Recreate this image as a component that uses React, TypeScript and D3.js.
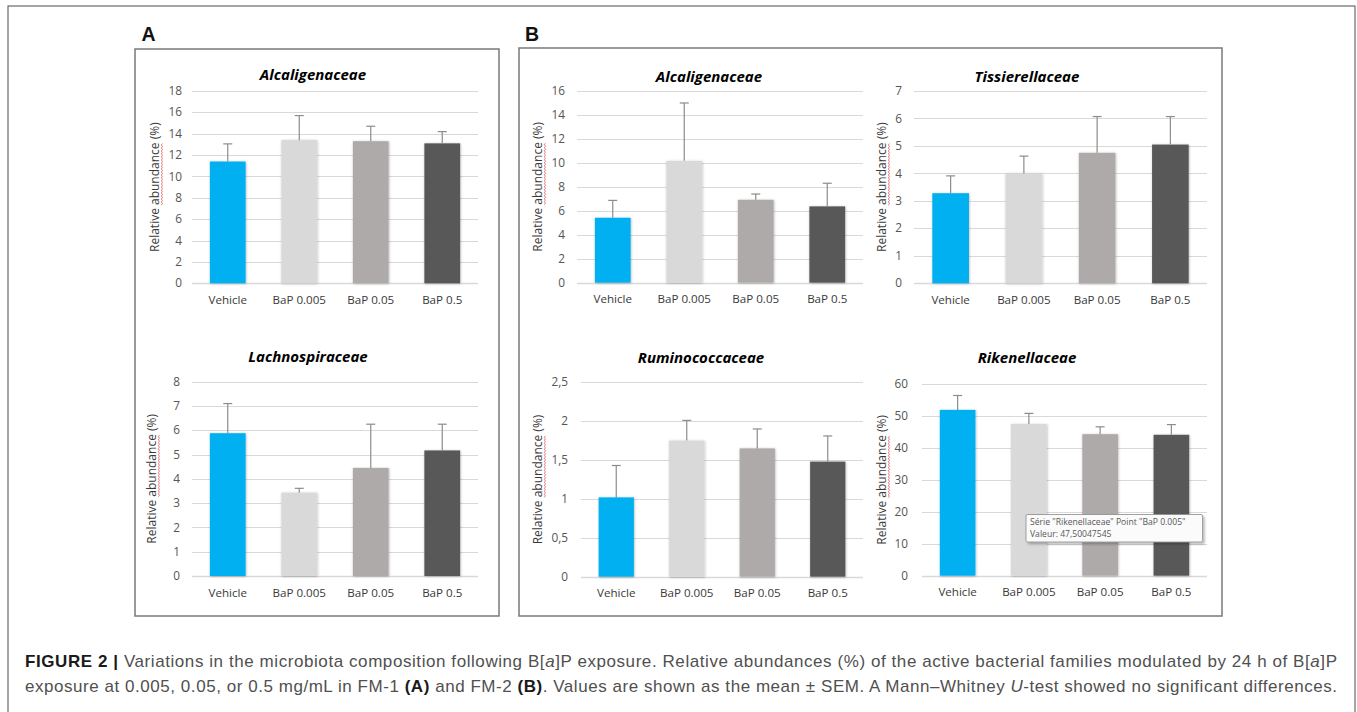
import React, { useEffect, useRef } from "react";
import * as d3 from "d3";

// categories on the x axis (same for every panel)
const categories = ["Vehicle", "BaP 0.005", "BaP 0.05", "BaP 0.5"];

// panel titles: A (FM-1) top, A bottom, then B (FM-2) four charts
const familyNames = [
  "Alcaligenaceae",
  "Lachnospiraceae",
  "Alcaligenaceae",
  "Tissierellaceae",
  "Ruminococcaceae",
  "Rikenellaceae",
];

// means (%) and SEM
const fm1Alcaligenaceae = [11.4, 13.4, 13.3, 13.1];
const fm1AlcaligenaceaeSem = [1.65, 2.3, 1.4, 1.1];
const fm1Lachnospiraceae = [5.88, 3.43, 4.45, 5.17];
const fm1LachnospiraceaeSem = [1.22, 0.18, 1.8, 1.08];
const fm2Alcaligenaceae = [5.42, 10.17, 6.92, 6.37];
const fm2AlcaligenaceaeSem = [1.45, 4.83, 0.48, 1.93];
const fm2Tissierellaceae = [3.28, 4.0, 4.75, 5.05];
const fm2TissierellaceaeSem = [0.63, 0.63, 1.32, 1.02];
const fm2Ruminococcaceae = [1.02, 1.75, 1.65, 1.48];
const fm2RuminococcaceaeSem = [0.41, 0.26, 0.25, 0.33];
const fm2Rikenellaceae = [51.9, 47.50047545, 44.3, 44.1];
const fm2RikenellaceaeSem = [4.5, 3.3, 2.3, 3.2];

const panelMeans = [
  fm1Alcaligenaceae,
  fm1Lachnospiraceae,
  fm2Alcaligenaceae,
  fm2Tissierellaceae,
  fm2Ruminococcaceae,
  fm2Rikenellaceae,
];
const panelSems = [
  fm1AlcaligenaceaeSem,
  fm1LachnospiraceaeSem,
  fm2AlcaligenaceaeSem,
  fm2TissierellaceaeSem,
  fm2RuminococcaceaeSem,
  fm2RikenellaceaeSem,
];

// y axis: max and tick step
const yMaxima = [18, 8, 16, 7, 2.5, 60];
const yTickSteps = [2, 1, 2, 1, 0.5, 10];

const yAxisLabel = "Relative abundance (%)";
const panelLetters = ["A", "B"];

// tooltip shown in the Rikenellaceae chart (panel index, category index)
const tooltipPanel = 5;
const tooltipCategory = 1;

// caption segments
const captionLine1 = [
  { t: "FIGURE 2 | ", b: true },
  { t: "Variations in the microbiota composition following B[" },
  { t: "a", i: true },
  { t: "]P exposure. Relative abundances (%) of the active bacterial families modulated by 24 h of B[" },
  { t: "a", i: true },
  { t: "]P" },
];
const captionLine2 = [
  { t: "exposure at 0.005, 0.05, or 0.5 mg/mL in FM-1 " },
  { t: "(A)", b: true },
  { t: " and FM-2 " },
  { t: "(B)", b: true },
  { t: ". Values are shown as the mean \u00b1 SEM. A Mann\u2013Whitney " },
  { t: "U", i: true },
  { t: "-test showed no significant differences." },
];

const barColors = ["#00b0f0", "#d9d9d9", "#aeaaaa", "#595959"];

// layout of each chart inside the figure
const layouts = [
  { x0: 192, x1: 478, yTop: 91, y0: 283.3, titleX: 313, titleY: 80, tickX: 182, ylabX: 155 },
  { x0: 192, x1: 478, yTop: 381.7, y0: 576, titleX: 308, titleY: 361.5, tickX: 180, ylabX: 152 },
  { x0: 577, x1: 863, yTop: 91, y0: 282.7, titleX: 709, titleY: 81.5, tickX: 565, ylabX: 538 },
  { x0: 914, x1: 1207, yTop: 91, y0: 283.3, titleX: 1027, titleY: 81.5, tickX: 902, ylabX: 882 },
  { x0: 581, x1: 863, yTop: 382.3, y0: 576.7, titleX: 701, titleY: 363, tickX: 568, ylabX: 538 },
  { x0: 922, x1: 1207, yTop: 384, y0: 575.7, titleX: 1027, titleY: 362.5, tickX: 908, ylabX: 882 },
];

const chartFont = "'Open Sans', 'Noto Sans', sans-serif";
const capFont = "'Liberation Sans', Arial, sans-serif";

const frLocale = d3.formatLocale({
  decimal: ",",
  thousands: " ",
  grouping: [3],
  currency: ["", "\u00a0\u20ac"],
});

export default function App() {
  const svgRef = useRef<SVGSVGElement | null>(null);

  useEffect(() => {
    if (!svgRef.current) return;
    const svg = d3.select(svgRef.current);
    svg.selectAll("*").remove();

    const defs = svg.append("defs");
    const f = defs
      .append("filter")
      .attr("id", "barShadow")
      .attr("x", "-20%")
      .attr("y", "-10%")
      .attr("width", "140%")
      .attr("height", "120%");
    f.append("feDropShadow")
      .attr("dx", 0.5)
      .attr("dy", 0.5)
      .attr("stdDeviation", 1.3)
      .attr("flood-color", "#000")
      .attr("flood-opacity", 0.3);
    const tf = defs
      .append("filter")
      .attr("id", "tipShadow")
      .attr("x", "-10%")
      .attr("y", "-20%")
      .attr("width", "130%")
      .attr("height", "160%");
    tf.append("feDropShadow")
      .attr("dx", 2)
      .attr("dy", 2)
      .attr("stdDeviation", 1.2)
      .attr("flood-color", "#000")
      .attr("flood-opacity", 0.25);

    svg.append("rect").attr("width", 1357).attr("height", 712).attr("fill", "#fff");

    // outer frame
    svg
      .append("rect")
      .attr("x", 8)
      .attr("y", 6)
      .attr("width", 1347)
      .attr("height", 740)
      .attr("fill", "none")
      .attr("stroke", "#4d4d4d")
      .attr("stroke-width", 1);

    // panel boxes
    const boxes = [
      { x: 135, y: 49, w: 364, h: 567, lx: 141.5 },
      { x: 519, y: 48, w: 703, h: 568, lx: 525 },
    ];
    boxes.forEach((b, i) => {
      svg
        .append("rect")
        .attr("x", b.x)
        .attr("y", b.y)
        .attr("width", b.w)
        .attr("height", b.h)
        .attr("fill", "none")
        .attr("stroke", "#7a7a7a")
        .attr("stroke-width", 1.5);
      svg
        .append("text")
        .attr("x", b.lx)
        .attr("y", 40.7)
        .attr("font-family", capFont)
        .attr("font-weight", "bold")
        .attr("font-size", 19.5)
        .attr("fill", "#111")
        .text(panelLetters[i]);
    });

    const fmt = frLocale.format("~g");

    layouts.forEach((L, p) => {
      const g = svg.append("g");
      const x = d3
        .scaleBand<string>()
        .domain(categories)
        .range([L.x0, L.x1])
        .paddingInner(0.5)
        .paddingOuter(0.25);
      const y = d3.scaleLinear().domain([0, yMaxima[p]]).range([L.y0, L.yTop]);
      const ticks = d3.range(0, yMaxima[p] + yTickSteps[p] / 2, yTickSteps[p]);

      g.selectAll("line.grid")
        .data(ticks)
        .join("line")
        .attr("x1", L.x0)
        .attr("x2", L.x1)
        .attr("y1", (d) => Math.round(y(d)) + 0.5)
        .attr("y2", (d) => Math.round(y(d)) + 0.5)
        .attr("stroke", "#d9d9d9")
        .attr("stroke-width", (d) => (d === 0 ? 1.5 : 1));

      g.selectAll("text.tick")
        .data(ticks)
        .join("text")
        .attr("x", L.tickX)
        .attr("y", (d) => y(d))
        .attr("dy", "0.35em")
        .attr("text-anchor", "end")
        .attr("font-family", chartFont)
        .attr("font-size", 11.8)
        .attr("fill", "#555")
        .text((d) => fmt(d));

      // bars
      g.selectAll("rect.bar")
        .data(panelMeans[p])
        .join("rect")
        .attr("x", (_, i) => x(categories[i])!)
        .attr("width", x.bandwidth())
        .attr("y", (d) => y(d))
        .attr("height", (d) => L.y0 - y(d))
        .attr("fill", (_, i) => barColors[i])
        .attr("filter", "url(#barShadow)");

      // error bars (upper only)
      const eg = g.append("g").attr("stroke", "#8c8c8c").attr("stroke-width", 1.2);
      panelMeans[p].forEach((m, i) => {
        const cx = x(categories[i])! + x.bandwidth() / 2;
        const top = y(m + panelSems[p][i]);
        eg.append("line").attr("x1", cx).attr("x2", cx).attr("y1", y(m)).attr("y2", top);
        eg.append("line")
          .attr("x1", cx - 4.5)
          .attr("x2", cx + 4.5)
          .attr("y1", top)
          .attr("y2", top);
      });

      // category labels
      g.selectAll("text.cat")
        .data(categories)
        .join("text")
        .attr("x", (d) => x(d)! + x.bandwidth() / 2)
        .attr("y", L.y0 + 20.5)
        .attr("text-anchor", "middle")
        .attr("font-family", chartFont)
        .attr("font-size", 11.6)
        .attr("fill", "#3a3a3a")
        .text((d) => d);

      // title
      g.append("text")
        .attr("x", L.titleX)
        .attr("y", L.titleY)
        .attr("text-anchor", "middle")
        .attr("font-family", chartFont)
        .attr("font-size", 15)
        .attr("font-weight", "bold")
        .attr("font-style", "italic")
        .attr("fill", "#000")
        .text(familyNames[p]);

      // y axis label, with the spell-check squiggle under "abundance"
      const lg = g
        .append("g")
        .attr("transform", `translate(${L.ylabX + 4},${(L.yTop + L.y0) / 2}) rotate(-90)`);
      const lt = lg
        .append("text")
        .attr("text-anchor", "middle")
        .attr("font-family", chartFont)
        .attr("font-size", 12)
        .attr("fill", "#3a3a3a")
        .text(yAxisLabel);
      const node = lt.node() as SVGTextElement;
      const total = node.getComputedTextLength();
      const wStart = yAxisLabel.indexOf("abundance");
      const pre = wStart > 0 ? node.getSubStringLength(0, wStart) : 0;
      const wLen = node.getSubStringLength(wStart, "abundance".length);
      const sx = -total / 2 + pre;
      const pts: [number, number][] = [];
      for (let k = 0; k <= Math.floor(wLen / 1.5); k++) {
        pts.push([sx + k * 1.5, 2.4 + (k % 2 === 0 ? 0 : 1)]);
      }
      lg.append("path")
        .attr("d", d3.line()(pts)!)
        .attr("fill", "none")
        .attr("stroke", "#e03c3c")
        .attr("stroke-width", 0.7);
    });

    // tooltip in the Rikenellaceae chart
    const tipVal = panelMeans[tooltipPanel][tooltipCategory];
    const tip = svg.append("g").attr("transform", "translate(1026,514.5)");
    tip
      .append("rect")
      .attr("width", 176.5)
      .attr("height", 27.5)
      .attr("rx", 1.5)
      .attr("fill", "#fbfbfb")
      .attr("stroke", "#8a8a8a")
      .attr("stroke-width", 0.8)
      .attr("filter", "url(#tipShadow)");
    const tipLines = [
      `S\u00e9rie "${familyNames[tooltipPanel]}" Point "${categories[tooltipCategory]}"`,
      `Valeur: ${frLocale.format(".10~g")(tipVal)}`,
    ];
    tip
      .selectAll("text")
      .data(tipLines)
      .join("text")
      .attr("x", 4)
      .attr("y", (_, i) => 10.5 + i * 12)
      .attr("font-family", "'Open Sans', 'DejaVu Sans', sans-serif")
      .attr("font-size", 8.6)
      .attr("fill", "#575757")
      .text((d) => d);

    // caption: size the font so the last line fills the width, then justify
    const capLines = [captionLine1, captionLine2];
    const capY = [667, 691.5];
    const capWidth = 1312;
    const texts = capLines.map((segs, li) => {
      const t = svg
        .append("text")
        .attr("x", 25)
        .attr("y", capY[li])
        .attr("font-family", capFont)
        .attr("font-size", 16)
        .attr("fill", "#505050");
      segs.forEach((s: { t: string; b?: boolean; i?: boolean }) => {
        t.append("tspan")
          .attr("font-weight", s.b ? "bold" : null)
          .attr("font-style", s.i ? "italic" : null)
          .attr("fill", s.b ? "#1a1a1a" : null)
          .text(s.t);
      });
      return t;
    });
    const w2 = (texts[1].node() as SVGTextElement).getComputedTextLength();
    const capSize = Math.min(17, (16 * capWidth) / w2);
    texts.forEach((t) => {
      t.attr("font-size", capSize)
        .attr("textLength", capWidth)
        .attr("lengthAdjust", "spacing");
    });
  }, []);

  return (
    <div style={{ position: "absolute", left: 0, top: 0 }}>
      <svg ref={svgRef} width={1357} height={712} style={{ display: "block" }} />
    </div>
  );
}
